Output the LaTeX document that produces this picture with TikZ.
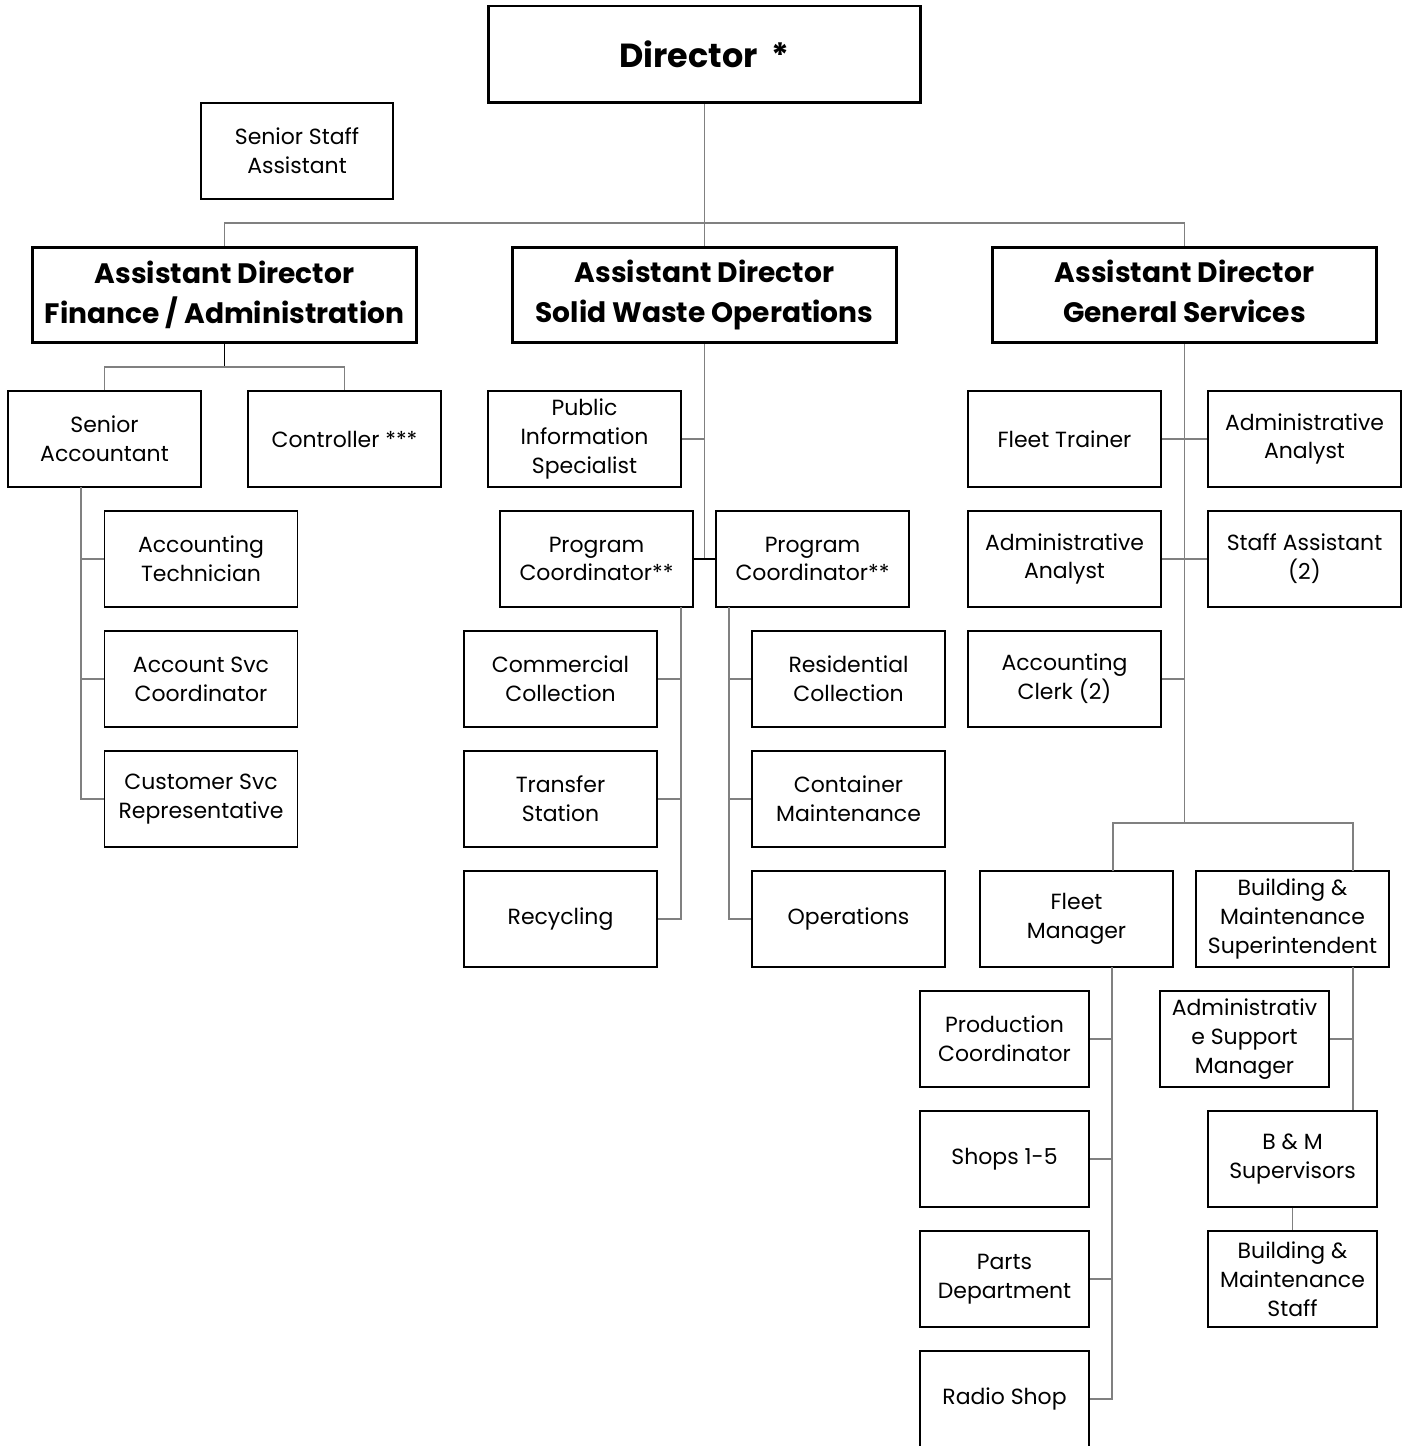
\documentclass[tikz,border=0pt]{standalone}
\usepackage{fontspec}
\setmainfont{Poppins}

\begin{document}
\begin{tikzpicture}[x=0.02cm, y=-0.02cm,
    box/.style = {draw, line width=1.1pt, minimum width=3.86cm, minimum height=1.92cm,
                  align=center, inner sep=1pt, font=\fontsize{12.5}{16.4}\selectfont},
    slim/.style = {box, minimum width=3.38cm},
    head/.style = {draw, line width=1.7pt, minimum width=7.7cm, minimum height=1.92cm,
                   align=center, inner sep=1pt, font=\bfseries\fontsize{16}{22.7}\selectfont},
    link/.style = {draw=black!50, line width=0.85pt},
    blink/.style = {draw=black, line width=0.85pt}]
    \useasboundingbox (0,0) rectangle (1408,1446);

    % top
    \node[head, minimum width=8.66cm, minimum height=1.94cm,
          font=\bfseries\fontsize{19}{22}\selectfont] (dir) at (704.5,54.5) {Director\ \ *};
    \node[box, minimum width=3.84cm] (ssa) at (297,151) {Senior Staff\\Assistant};
    \node[head] (adfin) at (224.5,295) {Assistant Director\\Finance / Administration};
    \node[head] (adsw) at (704.5,295) {Assistant Director\\Solid Waste Operations};
    \node[head] (adgs) at (1184.5,295) {Assistant Director\\General Services\vphantom{p}};

    % finance
    \node[box] (sracc) at (104.5,439) {Senior\\Accountant};
    \node[box] (ctrl) at (344.5,439) {Controller ***};
    \node[box] (actech) at (201,559) {Accounting\\Technician};
    \node[box] (acsvc) at (201,679) {Account Svc\\Coordinator};
    \node[box] (cust) at (201,799) {Customer Svc\\Representative};

    % solid waste
    \node[box] (pio) at (584.5,439) {Public\\Information\\Specialist};
    \node[box] (pc1) at (596.5,559) {Program\\Coordinator**};
    \node[box] (pc2) at (812.5,559) {Program\\Coordinator**};
    \node[box] (comm) at (560.5,679) {Commercial\\Collection};
    \node[box] (trans) at (560.5,799) {Transfer\\Station};
    \node[box] (recyc) at (560.5,919) {Recycling};
    \node[box] (resid) at (848.5,679) {Residential\\Collection};
    \node[box] (cont) at (848.5,799) {Container\\Maintenance};
    \node[box] (ops) at (848.5,919) {Operations};

    % general services
    \node[box] (ftrain) at (1064.5,439) {Fleet Trainer};
    \node[box] (aa1) at (1304.5,439) {Administrative\\Analyst};
    \node[box] (aa2) at (1064.5,559) {Administrative\\Analyst};
    \node[box] (staff) at (1304.5,559) {Staff Assistant\\(2)};
    \node[box] (aclerk) at (1064.5,679) {Accounting\\Clerk (2)};
    \node[box] (fleet) at (1076.5,919) {Fleet\\Manager};
    \node[box] (bms) at (1292.5,919) {Building \&\\Maintenance\\Superintendent};
    \node[slim] (prod) at (1004.5,1039) {Production\\Coordinator};
    \node[slim] (shops) at (1004.5,1159) {Shops 1-5};
    \node[slim] (parts) at (1004.5,1279) {Parts\\Department};
    \node[slim] (radio) at (1004.5,1399) {Radio Shop};
    \node[slim] (asm) at (1244.5,1039) {Administrativ\\e Support\\Manager};
    \node[slim] (bmsup) at (1292.5,1159) {B \& M\\Supervisors};
    \node[slim] (bmstaff) at (1292.5,1279) {Building \&\\Maintenance\\Staff};

    % lines
    \coordinate (dirbus) at (704.5,223);
    \draw[link] (dir) -- (adsw);
    \draw[link] (adfin.north) |- (dirbus) -| (adgs.north);

    \coordinate (finbus) at (224.5,367);
    \draw[blink] (adfin) -- (finbus);
    \draw[link] (sracc.north) |- (finbus) -| (ctrl.north);
    \coordinate (saleg) at (81,487);
    \foreach \n in {actech,acsvc,cust}
        \draw[link] (saleg) |- (\n.west);

    \draw[link] (adsw.south) -- (adsw.south |- pc1.east);
    \draw[link] (pio.east) -- (pio.east -| adsw.south);
    \draw[blink] (pc1) -- (pc2);
    \coordinate (pc1leg) at (681,607);
    \foreach \n in {comm,trans,recyc}
        \draw[link] (pc1leg) |- (\n.east);
    \coordinate (pc2leg) at (729,607);
    \foreach \n in {resid,cont,ops}
        \draw[link] (pc2leg) |- (\n.west);

    \coordinate (gsbus) at (1184.5,823);
    \draw[link] (adgs) -- (gsbus);
    \draw[link] (ftrain) -- (aa1);
    \draw[link] (aa2) -- (staff);
    \draw[link] (aclerk.east) -- (aclerk.east -| gsbus);
    \coordinate (fmtop) at (1113,871);
    \coordinate (bmtop) at (1353,871);
    \draw[link] (fmtop) |- (gsbus) -| (bmtop);
    \coordinate (fmleg) at (1112,967);
    \foreach \n in {prod,shops,parts,radio}
        \draw[link] (fmleg) |- (\n.east);
    \coordinate (bmleg) at (1353,967);
    \draw[link] (bmleg) -- (bmleg |- bmsup.north);
    \draw[link] (asm.east) -- (asm.east -| bmleg);
    \draw[link] (bmsup) -- (bmstaff);
\end{tikzpicture}
\end{document}
